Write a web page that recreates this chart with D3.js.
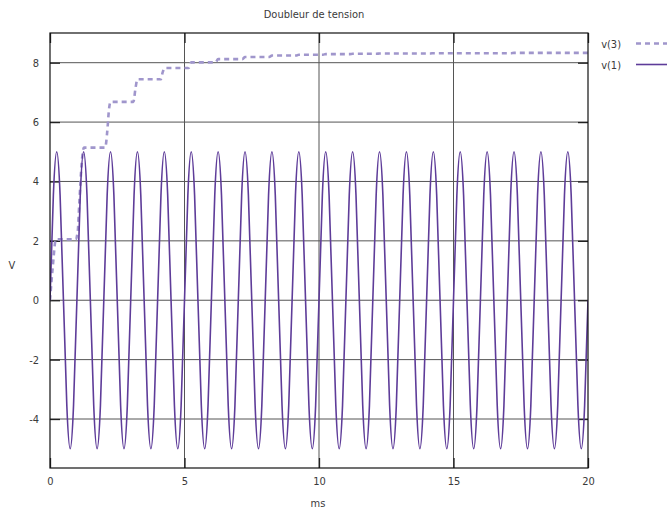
<!DOCTYPE html>
<html>
<head>
<meta charset="utf-8">
<script src="https://cdn.jsdelivr.net/npm/d3@7"></script>
<style>
  body { margin: 0; background: #fff; }
  svg text { font-family: "Liberation Sans Narrow", "DejaVu Sans Condensed", sans-serif; fill: #3a3a3a; }
</style>
</head>
<body>
<svg width="667" height="510"></svg>
<script>
const chartTitle = 'Doubleur de tension';
const xLabel = 'ms';
const yLabel = 'V';
const xTicks = [0, 5, 10, 15, 20];
const yTicks = [-4, -2, 0, 2, 4, 6, 8];

// v(1): source sine, sampled every 0.125 ms (one row per ms)
const v1Step = 0.125;
const v1Values = [
  0, 3.54, 5, 3.54, 0, -3.54, -5, -3.54,
  0, 3.54, 5, 3.54, 0, -3.54, -5, -3.54,
  0, 3.54, 5, 3.54, 0, -3.54, -5, -3.54,
  0, 3.54, 5, 3.54, 0, -3.54, -5, -3.54,
  0, 3.54, 5, 3.54, 0, -3.54, -5, -3.54,
  0, 3.54, 5, 3.54, 0, -3.54, -5, -3.54,
  0, 3.54, 5, 3.54, 0, -3.54, -5, -3.54,
  0, 3.54, 5, 3.54, 0, -3.54, -5, -3.54,
  0, 3.54, 5, 3.54, 0, -3.54, -5, -3.54,
  0, 3.54, 5, 3.54, 0, -3.54, -5, -3.54,
  0, 3.54, 5, 3.54, 0, -3.54, -5, -3.54,
  0, 3.54, 5, 3.54, 0, -3.54, -5, -3.54,
  0, 3.54, 5, 3.54, 0, -3.54, -5, -3.54,
  0, 3.54, 5, 3.54, 0, -3.54, -5, -3.54,
  0, 3.54, 5, 3.54, 0, -3.54, -5, -3.54,
  0, 3.54, 5, 3.54, 0, -3.54, -5, -3.54,
  0, 3.54, 5, 3.54, 0, -3.54, -5, -3.54,
  0, 3.54, 5, 3.54, 0, -3.54, -5, -3.54,
  0, 3.54, 5, 3.54, 0, -3.54, -5, -3.54,
  0, 3.54, 5, 3.54, 0, -3.54, -5, -3.54,
  0
];

// v(3): doubler output
const v3Times = [
  0, 0.1, 0.22,
  0.95, 1.03, 1.09, 1.18, 1.26,
  2.05, 2.13, 2.19, 2.25,
  3.1, 3.18, 3.25,
  4.12, 4.19, 4.26,
  5.15, 5.25,
  6.15, 6.25, 7.15, 7.25, 8.15, 8.25, 9.15, 9.25,
  10.15, 10.25, 11.15, 11.25, 12.15, 12.25, 13.15, 13.25,
  14.15, 14.25, 15.15, 15.25, 16.15, 16.25, 17.15, 17.25,
  18.15, 18.25, 19.15, 19.25, 20
];
const v3Values = [
  0, 1.1, 2.05,
  2.05, 2.31, 3.28, 4.63, 5.14,
  5.14, 5.7, 6.4, 6.68,
  6.68, 7.15, 7.44,
  7.44, 7.68, 7.82,
  7.82, 8.01,
  8.01, 8.12, 8.12, 8.19, 8.19, 8.24, 8.24, 8.27,
  8.27, 8.29, 8.29, 8.30, 8.30, 8.31, 8.31, 8.31,
  8.31, 8.32, 8.32, 8.32, 8.32, 8.32, 8.32, 8.33,
  8.33, 8.33, 8.33, 8.33, 8.33
];

const seriesNames = ['v(3)', 'v(1)'];
const seriesColors = ['#a096cc', '#5e3c99'];

var svg = d3.select('svg');
var plotLeft = 50, plotRight = 588, plotTop = 33, plotBottom = 468;

var x = d3.scaleLinear().domain([0, 20]).range([plotLeft, plotRight]);
var y = d3.scaleLinear().domain([-5.65, 9]).range([plotBottom, plotTop]);

// grid
var grid = svg.append('g').attr('class', 'grid');
grid.selectAll('line.gx')
  .data(xTicks.slice(1, -1))
  .enter().append('line')
  .attr('x1', d => x(d)).attr('x2', d => x(d))
  .attr('y1', plotTop).attr('y2', plotBottom)
  .attr('stroke', '#555').attr('stroke-width', 1);
grid.selectAll('line.gy')
  .data(yTicks)
  .enter().append('line')
  .attr('x1', plotLeft).attr('x2', plotRight)
  .attr('y1', d => y(d)).attr('y2', d => y(d))
  .attr('stroke', '#555').attr('stroke-width', 1);

// axes with inward ticks, mirrored
function styleAxis(g) {
  g.select('.domain').remove();
  g.selectAll('.tick line').attr('stroke', '#222').attr('stroke-width', 1.3);
  g.selectAll('.tick text').attr('font-size', 11).attr('fill', '#3a3a3a');
}
svg.append('g')
  .attr('transform', 'translate(' + plotLeft + ',0)')
  .call(d3.axisLeft(y).tickValues(yTicks).tickSize(-10).tickPadding(11).tickFormat(d => String(d)))
  .call(styleAxis);
svg.append('g')
  .attr('transform', 'translate(' + plotRight + ',0)')
  .call(d3.axisRight(y).tickValues(yTicks).tickSize(-10).tickFormat(''))
  .call(styleAxis);
svg.append('g')
  .attr('transform', 'translate(0,' + plotBottom + ')')
  .call(d3.axisBottom(x).tickValues(xTicks).tickSize(-10).tickPadding(9).tickFormat(d => String(d)))
  .call(styleAxis);
svg.append('g')
  .attr('transform', 'translate(0,' + plotTop + ')')
  .call(d3.axisTop(x).tickValues(xTicks).tickSize(-10).tickFormat(''))
  .call(styleAxis);

// lines
var v3Data = v3Times.map((t, i) => [t, v3Values[i]]);
var v1Data = v1Values.map((v, i) => [i * v1Step, v]);

svg.append('clipPath').attr('id', 'plot')
  .append('rect').attr('x', plotLeft).attr('y', plotTop)
  .attr('width', plotRight - plotLeft).attr('height', plotBottom - plotTop);

var plot = svg.append('g').attr('clip-path', 'url(#plot)');
plot.append('path')
  .datum(v3Data)
  .attr('fill', 'none')
  .attr('stroke', seriesColors[0])
  .attr('stroke-width', 2.6)
  .attr('stroke-dasharray', '5,4')
  .attr('d', d3.line().x(d => x(d[0])).y(d => y(d[1])).curve(d3.curveMonotoneX));
plot.append('path')
  .datum(v1Data)
  .attr('fill', 'none')
  .attr('stroke', seriesColors[1])
  .attr('stroke-width', 1.6)
  .attr('d', d3.line().x(d => x(d[0])).y(d => y(d[1])).curve(d3.curveNatural));

// border
svg.append('rect')
  .attr('x', plotLeft).attr('y', plotTop)
  .attr('width', plotRight - plotLeft).attr('height', plotBottom - plotTop)
  .attr('fill', 'none').attr('stroke', '#111').attr('stroke-width', 1.2);

// title and labels
svg.append('text').attr('x', 314).attr('y', 18)
  .attr('text-anchor', 'middle').attr('font-size', 11).text(chartTitle);
svg.append('text').attr('x', 318).attr('y', 507)
  .attr('text-anchor', 'middle').attr('font-size', 11).text(xLabel);
svg.append('text').attr('x', 12).attr('y', 269)
  .attr('text-anchor', 'middle').attr('font-size', 11).text(yLabel);

// legend
var legend = svg.append('g').attr('class', 'legend');
seriesNames.forEach(function (name, i) {
  var ly = 44 + i * 21;
  legend.append('text').attr('x', 621).attr('y', ly + 4)
    .attr('text-anchor', 'end').attr('font-size', 11).text(name);
  legend.append('line')
    .attr('x1', 636).attr('x2', 667)
    .attr('y1', ly - 0.5).attr('y2', ly - 0.5)
    .attr('stroke', seriesColors[i])
    .attr('stroke-width', i === 0 ? 2.6 : 1.6)
    .attr('stroke-dasharray', i === 0 ? '5,4' : null);
});
</script>
</body>
</html>
